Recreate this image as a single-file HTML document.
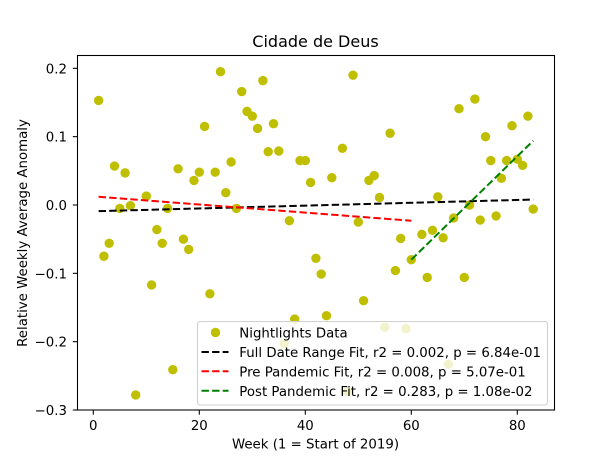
<!DOCTYPE html>
<html>
<head>
<meta charset="utf-8">
<style>
html,body{margin:0;padding:0;background:#fff;}
svg{display:block;}
text{font-family:"DejaVu Sans","Liberation Sans",sans-serif;fill:#000;}
</style>
</head>
<body>
<svg id="chart" width="615" height="461" viewBox="0 0 615 461" xmlns="http://www.w3.org/2000/svg"></svg>
<script>
var weeks = [1,2,3,4,5,6,7,8,10,11,12,13,14,15,16,17,18,19,20,21,22,23,24,25,26,27,28,29,30,31,32,33,34,35,36,37,38,39,40,41,42,43,44,45,47,48,49,50,51,52,53,54,55,56,57,58,59,60,62,63,64,65,66,67,68,69,70,71,72,73,74,75,76,77,78,79,80,81,82,83];
var anomalies = [0.153,-0.075,-0.056,0.057,-0.005,0.047,-0.001,-0.278,0.013,-0.117,-0.036,-0.056,-0.005,-0.241,0.053,-0.05,-0.065,0.036,0.048,0.115,-0.13,0.048,0.195,0.018,0.063,-0.005,0.166,0.137,0.13,0.112,0.182,0.078,0.119,0.079,-0.203,-0.023,-0.167,0.065,0.065,0.033,-0.078,-0.101,-0.162,0.04,0.083,-0.273,0.19,-0.025,-0.14,0.036,0.043,0.011,-0.179,0.105,-0.096,-0.049,-0.181,-0.08,-0.043,-0.106,-0.037,0.012,-0.048,-0.233,-0.019,0.141,-0.106,0,0.155,-0.022,0.1,0.065,-0.016,0.039,0.065,0.116,0.067,0.058,0.13,-0.006];
var fullFitWeeks = [1,83];
var fullFitValues = [-0.009,0.008];
var preFitWeeks = [1,60];
var preFitValues = [0.012,-0.023];
var postFitWeeks = [60,83];
var postFitValues = [-0.08,0.094];
var xTicks = [0,20,40,60,80];
var yTicks = [0.2,0.1,0,-0.1,-0.2,-0.3];
var legendLabels = ["Nightlights Data","Full Date Range Fit, r2 = 0.002, p = 6.84e-01","Pre Pandemic Fit, r2 = 0.008, p = 5.07e-01","Post Pandemic Fit, r2 = 0.283, p = 1.08e-02"];

var NS = "http://www.w3.org/2000/svg";
var svg = document.getElementById('chart');
var L = 77.5, R = 554.5, T = 55.5, B = 410;
function xAt(w){ return 93.3 + (w - 0) * 5.3; }
function yAt(v){ return 205 - v * 683.4; }
function mk(tag, attrs, parent){
  var e = document.createElementNS(NS, tag);
  for (var k in attrs) e.setAttribute(k, attrs[k]);
  (parent || svg).appendChild(e);
  return e;
}
function fmtY(v){
  var s = Math.abs(v).toFixed(1);
  return (v < 0 ? "\u2212" : "") + s;
}

var i, el;
for (i = 0; i < weeks.length; i++) {
  el = mk('circle', {cx: xAt(weeks[i]), cy: yAt(anomalies[i]), r: 4.7, fill: '#bfbf00'});
  
  
}

function fitLine(ws, vs, color, name){
  var ln = mk('line', {x1: xAt(ws[0]), y1: yAt(vs[0]), x2: xAt(ws[1]), y2: yAt(vs[1]), stroke: color, 'stroke-width': 2, 'stroke-dasharray': '7.4 3.2'});
  
  
}
fitLine(fullFitWeeks, fullFitValues, '#000000', 'full-date-range-fit-line');
fitLine(preFitWeeks, preFitValues, '#ff0000', 'pre-pandemic-fit-line');
fitLine(postFitWeeks, postFitValues, '#008000', 'post-pandemic-fit-line');

var frame = mk('rect', {x: L, y: T, width: R - L, height: B - T, fill: 'none', stroke: '#000', 'stroke-width': 1.07});



for (i = 0; i < xTicks.length; i++) {
  var xp = xAt(xTicks[i]);
  el = mk('line', {x1: xp, y1: B, x2: xp, y2: B + 4.7, stroke: '#000', 'stroke-width': 1.07});
  
  
  el = mk('text', {x: xp, y: 430, 'text-anchor': 'middle', 'font-size': 13.33});
  
  
  el.textContent = String(xTicks[i]);
}
for (i = 0; i < yTicks.length; i++) {
  var yp = yAt(yTicks[i]);
  el = mk('line', {x1: L - 4.7, y1: yp, x2: L, y2: yp, stroke: '#000', 'stroke-width': 1.07});
  
  
  el = mk('text', {x: 67, y: yp + 5, 'text-anchor': 'end', 'font-size': 13.33});
  
  
  el.textContent = fmtY(yTicks[i]);
}

var legend = mk('g', {});


el = mk('rect', {x: 197.5, y: 321.5, width: 350, height: 83.5, rx: 2.7, fill: '#fff', 'fill-opacity': 0.8, stroke: '#d0d0d0', 'stroke-width': 1.07}, legend);


var rowBase = [337.5, 357, 376.3, 395.8];
var rowColor = ['#bfbf00', '#000000', '#ff0000', '#008000'];
for (i = 0; i < legendLabels.length; i++) {
  if (i === 0) {
    el = mk('circle', {cx: 215.5, cy: rowBase[i] - 5, r: 4.7, fill: rowColor[i]}, legend);
  } else {
    el = mk('line', {x1: 201.5, y1: rowBase[i] - 5, x2: 228.5, y2: rowBase[i] - 5, stroke: rowColor[i], 'stroke-width': 2, 'stroke-dasharray': '7.4 3.2'}, legend);
  }
  
  
  el = mk('text', {x: 239.3, y: rowBase[i], 'font-size': 13.33}, legend);
  
  
  el.textContent = legendLabels[i];
}

el = mk('text', {x: 315.5, y: 47, 'text-anchor': 'middle', 'font-size': 16});


el.textContent = 'Cidade de Deus';

el = mk('text', {x: 315.5, y: 448.5, 'text-anchor': 'middle', 'font-size': 13.33});


el.textContent = 'Week (1 = Start of 2019)';

el = mk('text', {x: 0, y: 0, 'text-anchor': 'middle', 'font-size': 13.33, transform: 'translate(27 233) rotate(-90)'});


el.textContent = 'Relative Weekly Average Anomaly';
</script>
</body>
</html>
